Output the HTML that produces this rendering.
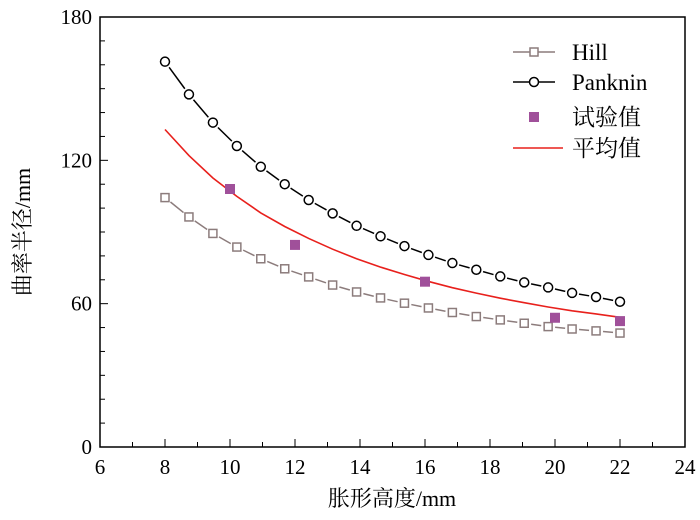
<!DOCTYPE html>
<html><head><meta charset="utf-8"><style>
body{margin:0;background:#fff}
svg{display:block}
text{font-family:"Liberation Serif","Noto Serif CJK SC",serif;fill:#000}
</style></head><body>
<svg id="c" width="700" height="520"></svg>
<script>
const xs=[8,8.737,9.474,10.211,10.947,11.684,12.421,13.158,13.895,14.632,15.368,16.105,16.842,17.579,18.316,19.053,19.789,20.526,21.263,22];
const panknin=[161.3,147.6,135.8,126,117.3,110,103.4,97.8,92.6,88.2,84.1,80.4,77,74.2,71.4,68.9,66.8,64.5,62.8,60.8];
const hill=[104.4,96.3,89.4,83.7,78.8,74.6,71.2,67.8,64.9,62.4,60.2,58.2,56.3,54.6,53.2,51.8,50.4,49.4,48.6,47.7];
const mean=[132.9,122,112.6,104.9,98,92.3,87.3,82.8,78.8,75.3,72.2,69.3,66.7,64.4,62.3,60.4,58.6,57,55.7,54.3];
const expX=[10,12,16,20,22];
const expY=[108,84.6,69.2,54.1,52.7];
const xTicks=[6,8,10,12,14,16,18,20,22,24];
const yTicks=[0,60,120,180];
const NS="http://www.w3.org/2000/svg";
const svg=document.getElementById('c');
const L=100,R=685,T=17,B=447;
const X=v=>L+(v-6)/18*(R-L);
const Y=v=>B-v/180*(B-T);
function el(t,a,p){const e=document.createElementNS(NS,t);for(const k in a)e.setAttribute(k,a[k]);(p||svg).appendChild(e);return e;}
const frame=el('rect',{x:L,y:T,width:R-L,height:B-T,fill:'none',stroke:'#000','stroke-width':1.5});


for(let v=6;v<=24;v++){const t=el('line',{x1:X(v),x2:X(v),y1:B,y2:B-(v%2==0?8:5),stroke:'#000','stroke-width':1});

}
for(let v=0;v<=180;v+=10){const t=el('line',{x1:L,x2:L+(v%60==0?8:5),y1:Y(v),y2:Y(v),stroke:'#000','stroke-width':1});

}
xTicks.forEach(v=>{const t=el('text',{x:X(v),y:474,'text-anchor':'middle','font-size':21});t.textContent=v;

});
yTicks.forEach(v=>{const t=el('text',{x:L-8,y:Y(v)+7,'text-anchor':'end','font-size':21});t.textContent=v;

});
const xl=el('text',{x:392,y:506,'text-anchor':'middle','font-size':22});xl.textContent='胀形高度/mm';


const yl=el('text',{x:0,y:0,'text-anchor':'middle','font-size':22,transform:'translate(30,232) rotate(-90)'});yl.textContent='曲率半径/mm';


function gapLine(vals,col,name){for(let i=0;i<vals.length-1;i++){const x1=X(xs[i]),y1=Y(vals[i]),x2=X(xs[i+1]),y2=Y(vals[i+1]);const d=Math.hypot(x2-x1,y2-y1),g=7/d;
const s=el('line',{x1:x1+(x2-x1)*g,y1:y1+(y2-y1)*g,x2:x2-(x2-x1)*g,y2:y2-(y2-y1)*g,stroke:col,'stroke-width':1.5});

}}
gapLine(hill,'#8c7c7c','hill');
gapLine(panknin,'#000','panknin');
let md='';mean.forEach((v,i)=>md+=(i?'L':'M')+X(xs[i])+' '+Y(v));
const ml=el('path',{d:md,fill:'none',stroke:'#e8201c','stroke-width':1.6});


hill.forEach((v,i)=>{const m=el('rect',{x:X(xs[i])-4,y:Y(v)-4,width:8,height:8,fill:'#fff',stroke:'#8c7c7c','stroke-width':1.5});

});
panknin.forEach((v,i)=>{const m=el('circle',{cx:X(xs[i]),cy:Y(v),r:4.5,fill:'#fff',stroke:'#000','stroke-width':1.5});

});
expX.forEach((x,i)=>{const m=el('rect',{x:X(x)-5,y:Y(expY[i])-5,width:10,height:10,fill:'#a0509a'});

});
// legend
const lg=el('g',{});


const ly=[52,82,117,148];
el('line',{x1:513,x2:555,y1:ly[0],y2:ly[0],stroke:'#8c7c7c','stroke-width':1.5},lg);
el('rect',{x:530,y:ly[0]-4,width:8,height:8,fill:'#fff',stroke:'#8c7c7c','stroke-width':1.5},lg);
el('line',{x1:513,x2:555,y1:ly[1],y2:ly[1],stroke:'#000','stroke-width':1.5},lg);
el('circle',{cx:534,cy:ly[1],r:4.5,fill:'#fff',stroke:'#000','stroke-width':1.5},lg);
el('rect',{x:529,y:ly[2]-5,width:10,height:10,fill:'#a0509a'},lg);
el('line',{x1:513,x2:563,y1:ly[3],y2:ly[3],stroke:'#e8201c','stroke-width':1.6},lg);
['Hill','Panknin','试验值','平均值'].forEach((s,i)=>{const t=el('text',{x:572,y:ly[i]+8,'font-size':23},lg);t.textContent=s;

});
</script>
</body></html>
